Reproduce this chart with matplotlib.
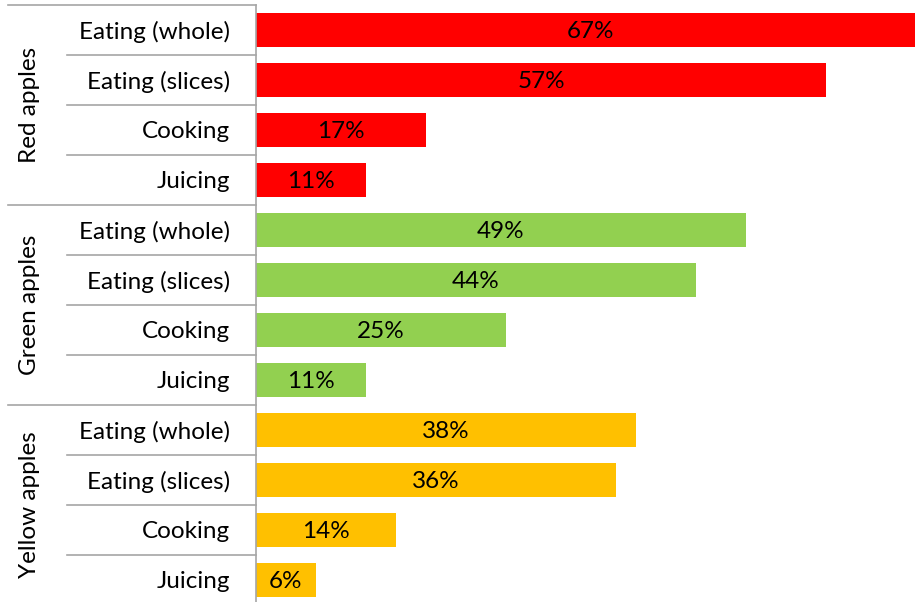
import numpy as np
import matplotlib
matplotlib.use("Agg")
import matplotlib.pyplot as plt
from matplotlib.transforms import blended_transform_factory

plt.rcParams['font.family'] = ['Lato', 'DejaVu Sans']

# apple types and what people use them for
groups = ["Red apples", "Green apples", "Yellow apples"]
uses = ["Eating (whole)", "Eating (slices)", "Cooking", "Juicing"]
red_vals = [67, 57, 17, 11]
green_vals = [49, 44, 25, 11]
yellow_vals = [38, 36, 14, 6]
colors = ["#FF0000", "#92D050", "#FFC000"]

FS = 17.5
W, H = 915, 602
fig = plt.figure(figsize=(W / 100, H / 100), dpi=100)
# axes in pixel terms: left edge 256, top 5, 12 rows of 50px
ax = fig.add_axes([256 / W, (H - 605) / H, 659 / W, 600 / H])

values = red_vals + green_vals + yellow_vals
labels = uses * len(groups)
bar_cols = [c for c in colors for _ in uses]
ypos = np.arange(len(values))

bars = ax.barh(ypos, values, height=0.67, color=bar_cols)
for b, v in zip(bars, values):
    ax.text(v / 2, b.get_y() + b.get_height() / 2 + 0.04, f"{v}%",
            ha='center', va='center', fontsize=FS, color='black')

ax.set_xlim(0, 65.9)
ax.set_ylim(11.5, -0.5)
ax.set_xticks([])
ax.set_yticks(ypos)
ax.set_yticklabels(labels, fontsize=FS)
ax.tick_params(axis='y', length=0, pad=18.5)

for s in ['top', 'right', 'bottom']:
    ax.spines[s].set_visible(False)
ax.spines['left'].set_color('#A6A6A6')
ax.spines['left'].set_linewidth(1.2)

# the category separator lines out in the left margin
trans = blended_transform_factory(ax.transAxes, ax.transData)
x_outer = (8 - 256) / 659
x_inner = (67 - 256) / 659
for k in range(len(values) + 1):
    yb = k - 0.5
    x0 = x_outer if k % len(uses) == 0 else x_inner
    ax.plot([x0, 0], [yb, yb], transform=trans, color='#A6A6A6',
            lw=1.2, clip_on=False)

# group names, rotated
x_grp = (30 - 256) / 659
for i, g in enumerate(groups):
    ax.text(x_grp, i * len(uses) + 1.5, g, transform=trans, rotation=90,
            ha='center', va='center', fontsize=FS)

fig.savefig("out.png", dpi=100)
